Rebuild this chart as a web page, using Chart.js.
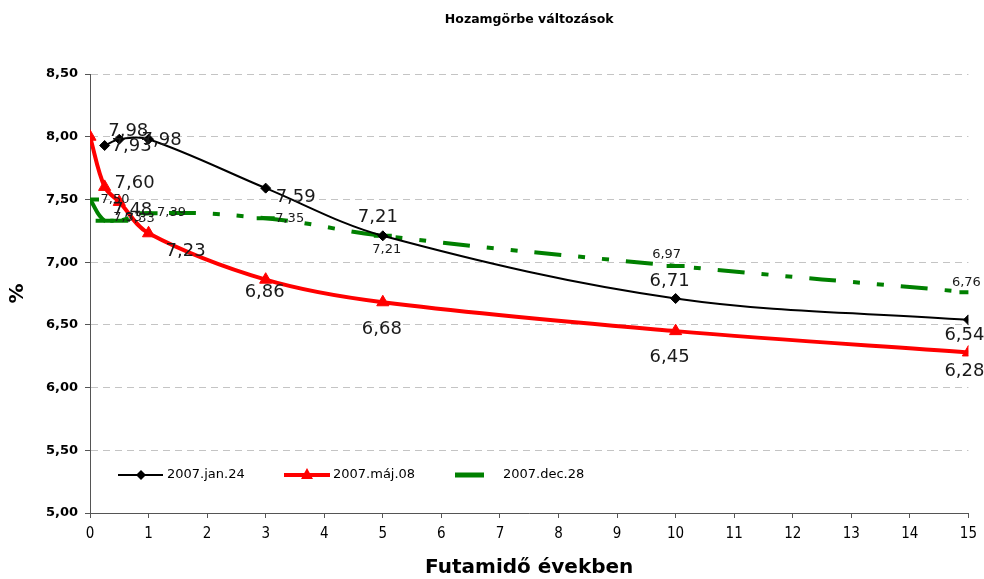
<!DOCTYPE html>
<html>
<head>
<meta charset="utf-8">
<script src="https://cdn.jsdelivr.net/npm/chart.js@4.4.1/dist/chart.umd.min.js"></script>
<style>
  html, body { margin: 0; padding: 0; background: #fff; }
  #wrap { width: 984px; height: 579px; }
</style>
</head>
<body>
<div id="wrap"><canvas id="chart" width="984" height="579"></canvas></div>
<script>
// maturities (years) and yields (%)
const janMaturity = [0.25, 0.5, 1, 3, 5, 10, 15];
const janYield = [7.93, 7.98, 7.98, 7.59, 7.21, 6.71, 6.54];
const majMaturity = [0, 0.25, 0.5, 1, 3, 5, 10, 15];
const majYield = [8.00, 7.60, 7.48, 7.23, 6.86, 6.68, 6.45, 6.28];
const decMaturity = [0, 0.25, 0.5, 1, 3, 5, 10, 15];
const decYield = [7.50, 7.33, 7.33, 7.39, 7.35, 7.21, 6.97, 6.76];
const seriesNames = ['2007.jan.24', '2007.máj.08', '2007.dec.28'];
const yTicks = [5, 5.5, 6, 6.5, 7, 7.5, 8, 8.5];

// where each value label sits relative to its point (null = hidden)
const janLabelPos = [[27, 1], [9, -8], [13, 1], [30, 9], [-5, -18], [-6, -17], [-4, 15]];
const majLabelPos = [null, [30, -4], [13, 8], [37, 18], [-1, 13], [-1, 27], [-6, 26], [-4, 19]];
const decLabelPos = [[25, 0], [23, -3], [21, -2], [23, -1], [24, 0], [4, 14], [-9, -11], [-2, -10]];

const toPoints = (xs, ys) => xs.map((x, i) => ({ x: x, y: ys[i] }));
const fmt = v => v.toFixed(2).replace('.', ',');

const labelCfg = [
    { pos: janLabelPos, font: '18px "DejaVu Sans"' },
    { pos: majLabelPos, font: '18px "DejaVu Sans"' },
    { pos: decLabelPos, font: '13px "DejaVu Sans"' }
];

const valueLabels = {
    id: 'valueLabels',
    afterDatasetsDraw(chart) {
        const ctx = chart.ctx;
        chart.data.datasets.forEach((ds, i) => {
            const meta = chart.getDatasetMeta(i);
            const cfg = labelCfg[i];
            ctx.save();
            ctx.font = cfg.font;
            ctx.fillStyle = '#1a1a1a';
            ctx.textAlign = 'center';
            ctx.textBaseline = 'middle';
            meta.data.forEach((pt, j) => {
                const o = cfg.pos[j];
                if (!o) return;
                ctx.fillText(fmt(ds.data[j].y), pt.x + o[0], pt.y + o[1]);
            });
            ctx.restore();
        });
    }
};

const extras = {
    id: 'extras',
    afterDraw(chart) {
        const ctx = chart.ctx;
        const area = chart.chartArea;
        ctx.save();
        // title
        ctx.font = 'bold 12.5px "DejaVu Sans"';
        ctx.fillStyle = '#000';
        ctx.textAlign = 'center';
        ctx.textBaseline = 'middle';
        ctx.fillText('Hozamgörbe változások', (area.left + area.right) / 2, 20);

        // legend
        const y = 475;
        ctx.font = '13px "DejaVu Sans"';
        ctx.textAlign = 'left';
        ctx.fillStyle = '#000';

        ctx.strokeStyle = '#000';
        ctx.lineWidth = 2;
        ctx.beginPath(); ctx.moveTo(118, y); ctx.lineTo(163, y); ctx.stroke();
        ctx.beginPath();
        ctx.moveTo(141, y - 5); ctx.lineTo(146, y); ctx.lineTo(141, y + 5); ctx.lineTo(136, y);
        ctx.closePath(); ctx.fill();
        ctx.fillText(seriesNames[0], 167, y);

        ctx.strokeStyle = '#ff0000';
        ctx.fillStyle = '#ff0000';
        ctx.lineWidth = 4;
        ctx.beginPath(); ctx.moveTo(284, y); ctx.lineTo(330, y); ctx.stroke();
        ctx.beginPath();
        ctx.moveTo(307, y - 7); ctx.lineTo(313, y + 4); ctx.lineTo(301, y + 4);
        ctx.closePath(); ctx.fill();
        ctx.fillStyle = '#000';
        ctx.fillText(seriesNames[1], 333, y);

        ctx.strokeStyle = '#008000';
        ctx.lineWidth = 5;
        ctx.beginPath(); ctx.moveTo(455, y); ctx.lineTo(484, y); ctx.stroke();
        ctx.fillText(seriesNames[2], 503, y);
        ctx.restore();
    }
};

new Chart(document.getElementById('chart'), {
    type: 'line',
    data: {
        datasets: [
            {
                label: seriesNames[0],
                data: toPoints(janMaturity, janYield),
                borderColor: '#000',
                backgroundColor: '#000',
                borderWidth: 2,
                pointStyle: 'rectRot',
                pointRadius: 5,
                pointBorderWidth: 1,
                tension: 0.35,
                order: 1
            },
            {
                label: seriesNames[1],
                data: toPoints(majMaturity, majYield),
                borderColor: '#ff0000',
                backgroundColor: '#ff0000',
                borderWidth: 4,
                pointStyle: 'triangle',
                pointRadius: 7,
                pointBorderWidth: 1,
                tension: 0.35,
                order: 0
            },
            {
                label: seriesNames[2],
                data: toPoints(decMaturity, decYield),
                borderColor: '#008000',
                backgroundColor: '#008000',
                borderWidth: 4,
                borderDash: [27, 17, 7, 17, 7, 17],
                pointStyle: 'line',
                pointRadius: 9,
                pointBorderWidth: 4,
                tension: 0.45,
                order: 2
            }
        ]
    },
    options: {
        responsive: false,
        animation: false,
        events: [],
        layout: { padding: { left: 0, right: 12, top: 74, bottom: 0 } },
        plugins: {
            legend: { display: false },
            tooltip: { enabled: false },
            title: { display: false }
        },
        scales: {
            x: {
                type: 'linear',
                min: 0,
                max: 15,
                afterFit: s => { s.height = 66; },
                ticks: {
                    stepSize: 1,
                    padding: 7,
                    color: '#000',
                    font: { family: '"Liberation Sans Narrow", "DejaVu Sans Condensed", sans-serif', size: 15 }
                },
                grid: { drawOnChartArea: false, drawTicks: true, tickLength: 5, tickColor: '#555' },
                border: { color: '#555', width: 1 },
                title: {
                    display: true,
                    text: 'Futamidő években',
                    color: '#000',
                    font: { family: '"DejaVu Sans"', size: 20, weight: 'bold', lineHeight: 1 },
                    padding: { top: 0, bottom: 1 }
                }
            },
            y: {
                min: 5,
                max: 8.5,
                afterFit: s => { s.width = 90; },
                afterBuildTicks: s => { s.ticks = yTicks.map(v => ({ value: v })); },
                ticks: {
                    padding: 7,
                    color: '#000',
                    font: { family: '"DejaVu Sans"', size: 13, weight: 'bold' },
                    callback: v => fmt(v)
                },
                grid: { color: '#c4c4c4', tickColor: '#555', tickLength: 5, tickBorderDash: [] },
                border: { color: '#555', width: 1, dash: [7, 5] },
                title: {
                    display: true,
                    text: '%',
                    color: '#000',
                    font: { family: '"DejaVu Sans"', size: 20, weight: 'bold', lineHeight: 1 },
                    padding: { top: 8, bottom: 0 }
                }
            }
        }
    },
    plugins: [valueLabels, extras]
});
</script>
</body>
</html>
